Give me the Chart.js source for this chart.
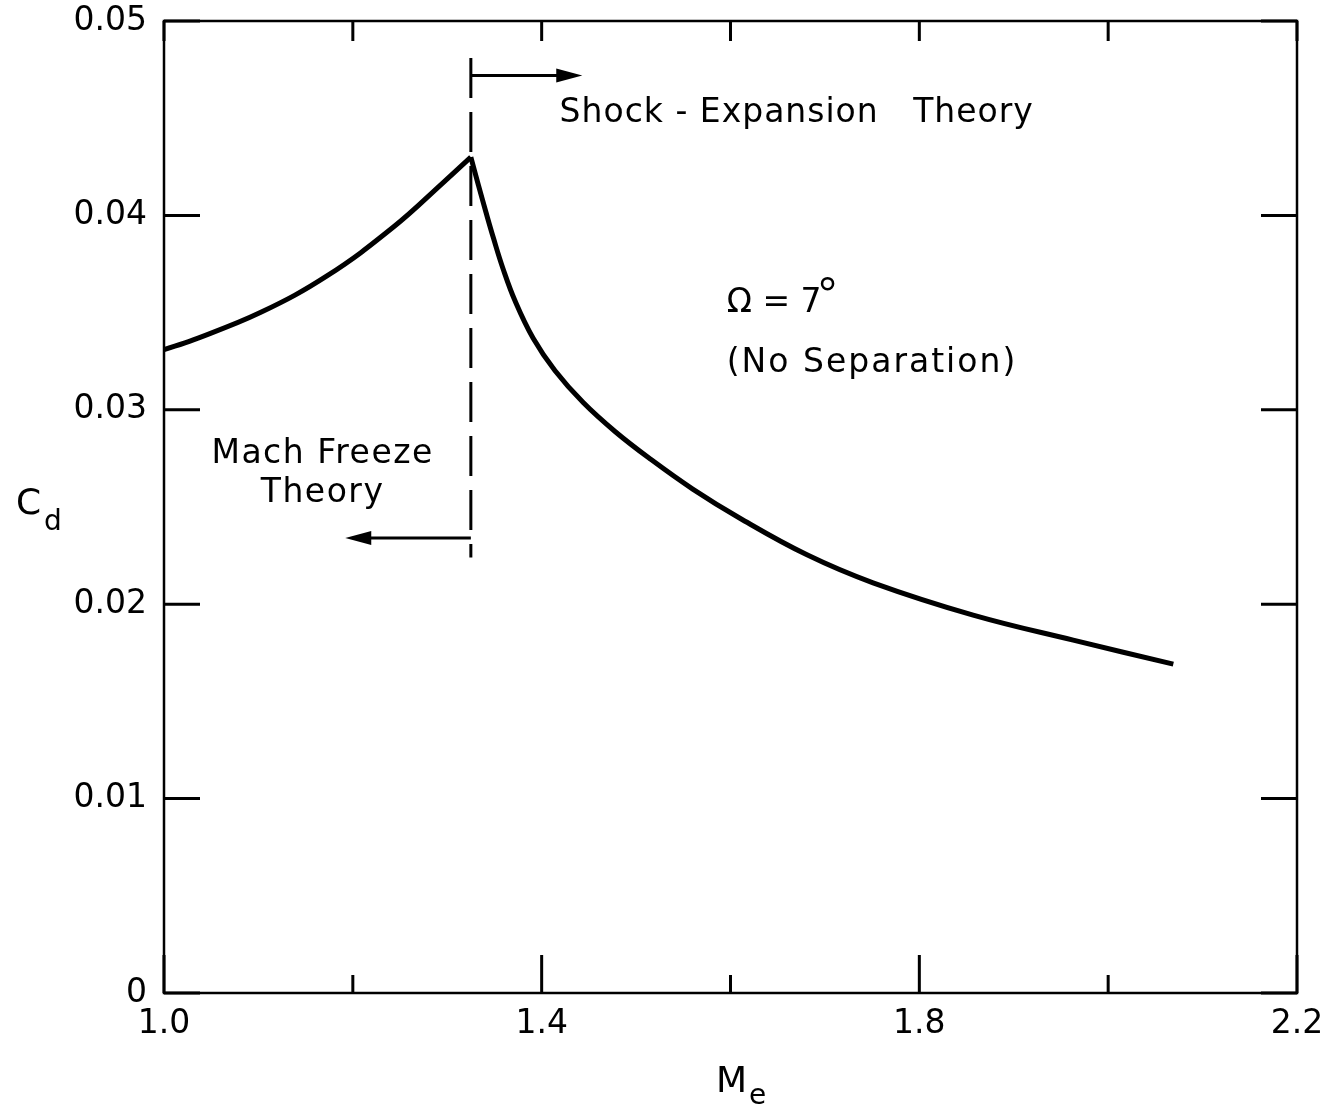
<!DOCTYPE html>
<html>
<head>
<meta charset="utf-8">
<script src="https://cdn.jsdelivr.net/npm/chart.js@4"></script>
<style>
  body { margin: 0; background: #fff; }
</style>
</head>
<body>
<canvas id="cd-graph" width="1329" height="1105"></canvas>
<script>
// Mach freeze branch (left of the cusp)
const machFreeze = [1.0, 1.031, 1.102, 1.173, 1.243, 1.296, 1.325];
const cdFreeze = [0.0331, 0.0336, 0.0350, 0.0369, 0.0394, 0.0417, 0.0430];

// shock-expansion branch
const machShock = [1.325, 1.333, 1.341, 1.349, 1.359, 1.372, 1.391, 1.414, 1.444, 1.478, 1.515, 1.560, 1.610, 1.681, 1.751, 1.857, 1.963, 2.069];
const cdShock = [0.0430, 0.04156, 0.04016, 0.03882, 0.03727, 0.03558, 0.03368, 0.03202, 0.03037, 0.02887, 0.02747, 0.02592, 0.02442, 0.02254, 0.02110, 0.01944, 0.01815, 0.01692];

// boundary between the two theories
const machSplit = [1.325, 1.325];
const cdSplit = [0.0481, 0.0224];

const xLabelled = [1.0, 1.4, 1.8, 2.2];

const FONT = "'DejaVu Sans', sans-serif";

function points(xs, ys) {
    return xs.map((x, i) => ({ x: x, y: ys[i] }));
}

function sameTick(a, b) {
    return Math.abs(a - b) < 1e-6;
}

// inward tick marks, the closed frame and the lettered notes
const frameAndNotes = {
    id: 'frameAndNotes',
    afterDraw(chart) {
        const ctx = chart.ctx;
        const a = chart.chartArea;
        const xs = chart.scales.x;
        const ys = chart.scales.y;

        ctx.save();
        ctx.strokeStyle = '#000';
        ctx.fillStyle = '#000';
        ctx.lineWidth = 2.5;
        ctx.strokeRect(a.left, a.top, a.right - a.left, a.bottom - a.top);

        ctx.lineWidth = 3;
        ctx.beginPath();
        xs.ticks.forEach(t => {
            const px = xs.getPixelForValue(t.value);
            const big = xLabelled.some(v => sameTick(v, t.value));
            ctx.moveTo(px, a.bottom);
            ctx.lineTo(px, a.bottom - (big ? 38 : 18));
            ctx.moveTo(px, a.top);
            ctx.lineTo(px, a.top + 20);
        });
        ys.ticks.forEach(t => {
            const py = ys.getPixelForValue(t.value);
            ctx.moveTo(a.left, py);
            ctx.lineTo(a.left + 36, py);
            ctx.moveTo(a.right, py);
            ctx.lineTo(a.right - 36, py);
        });
        ctx.stroke();

        // arrows leaving the split line
        function arrow(x0, x1, y) {
            const px0 = xs.getPixelForValue(x0);
            const px1 = xs.getPixelForValue(x1);
            const py = ys.getPixelForValue(y);
            const dir = Math.sign(px1 - px0);
            ctx.lineWidth = 3;
            ctx.beginPath();
            ctx.moveTo(px0, py);
            ctx.lineTo(px1 - dir * 20, py);
            ctx.stroke();
            ctx.beginPath();
            ctx.moveTo(px1, py);
            ctx.lineTo(px1 - dir * 26, py - 7);
            ctx.lineTo(px1 - dir * 26, py + 7);
            ctx.closePath();
            ctx.fill();
        }
        arrow(1.325, 1.443, 0.0472);
        arrow(1.325, 1.192, 0.0234);

        ctx.font = '33px ' + FONT;
        ctx.letterSpacing = '1px';
        ctx.textBaseline = 'alphabetic';
        ctx.textAlign = 'left';
        ctx.fillText('Shock - Expansion   Theory', xs.getPixelForValue(1.419), ys.getPixelForValue(0.0448));

        const ox = xs.getPixelForValue(1.596);
        const oy = ys.getPixelForValue(0.03505);
        ctx.letterSpacing = '0px';
        ctx.fillText('\u03A9 = 7', ox, oy);
        const omegaW = ctx.measureText('\u03A9 = 7').width;
        // degree mark
        ctx.lineWidth = 2.5;
        ctx.beginPath();
        ctx.arc(ox + omegaW + 6, oy - 28, 5.5, 0, Math.PI * 2);
        ctx.stroke();

        ctx.letterSpacing = '2px';
        ctx.fillText('(No Separation)', ox, ys.getPixelForValue(0.03196));

        ctx.letterSpacing = '1.5px';
        ctx.textAlign = 'center';
        ctx.fillText('Mach Freeze', xs.getPixelForValue(1.168), ys.getPixelForValue(0.02726));
        ctx.fillText('Theory', xs.getPixelForValue(1.168), ys.getPixelForValue(0.02526));

        // axis titles with subscripts
        ctx.letterSpacing = '0px';
        ctx.textAlign = 'left';
        ctx.font = '36px ' + FONT;
        ctx.fillText('C', 16, 514);
        ctx.fillText('M', 716, 1092);
        ctx.font = '28px ' + FONT;
        ctx.fillText('d', 44, 530);
        ctx.fillText('e', 749, 1104);
        ctx.restore();
    }
};

new Chart("cd-graph", {
    type: 'line',
    data: {
        datasets: [
            {
                data: points(machFreeze, cdFreeze),
                borderColor: '#000',
                borderWidth: 5,
                pointRadius: 0,
                tension: 0.4
            },
            {
                data: points(machShock, cdShock),
                borderColor: '#000',
                borderWidth: 5,
                pointRadius: 0,
                tension: 0.4
            },
            {
                data: points(machSplit, cdSplit),
                borderColor: '#000',
                borderWidth: 3,
                borderDash: [40, 14],
                pointRadius: 0
            }
        ]
    },
    options: {
        responsive: false,
        animation: false,
        layout: { padding: { top: 21, right: 32 } },
        plugins: {
            legend: { display: false },
            tooltip: { enabled: false }
        },
        scales: {
            x: {
                type: 'linear',
                min: 1.0,
                max: 2.2,
                afterFit: s => { s.height = 112; },
                grid: { display: false, drawTicks: true, tickLength: 12 },
                border: { display: false },
                ticks: {
                    stepSize: 0.2,
                    padding: 0,
                    color: '#000',
                    font: { family: FONT, size: 33 },
                    maxRotation: 0,
                    autoSkip: false,
                    callback: v => xLabelled.some(l => sameTick(l, v)) ? v.toFixed(1) : ''
                }
            },
            y: {
                min: 0,
                max: 0.05,
                afterFit: s => { s.width = 164; },
                grid: { display: false, drawTicks: true, tickLength: 17 },
                border: { display: false },
                ticks: {
                    stepSize: 0.01,
                    padding: 0,
                    color: '#000',
                    font: { family: FONT, size: 33 },
                    callback: v => v === 0 ? '0' : v.toFixed(2)
                }
            }
        }
    },
    plugins: [frameAndNotes]
});
</script>
</body>
</html>
